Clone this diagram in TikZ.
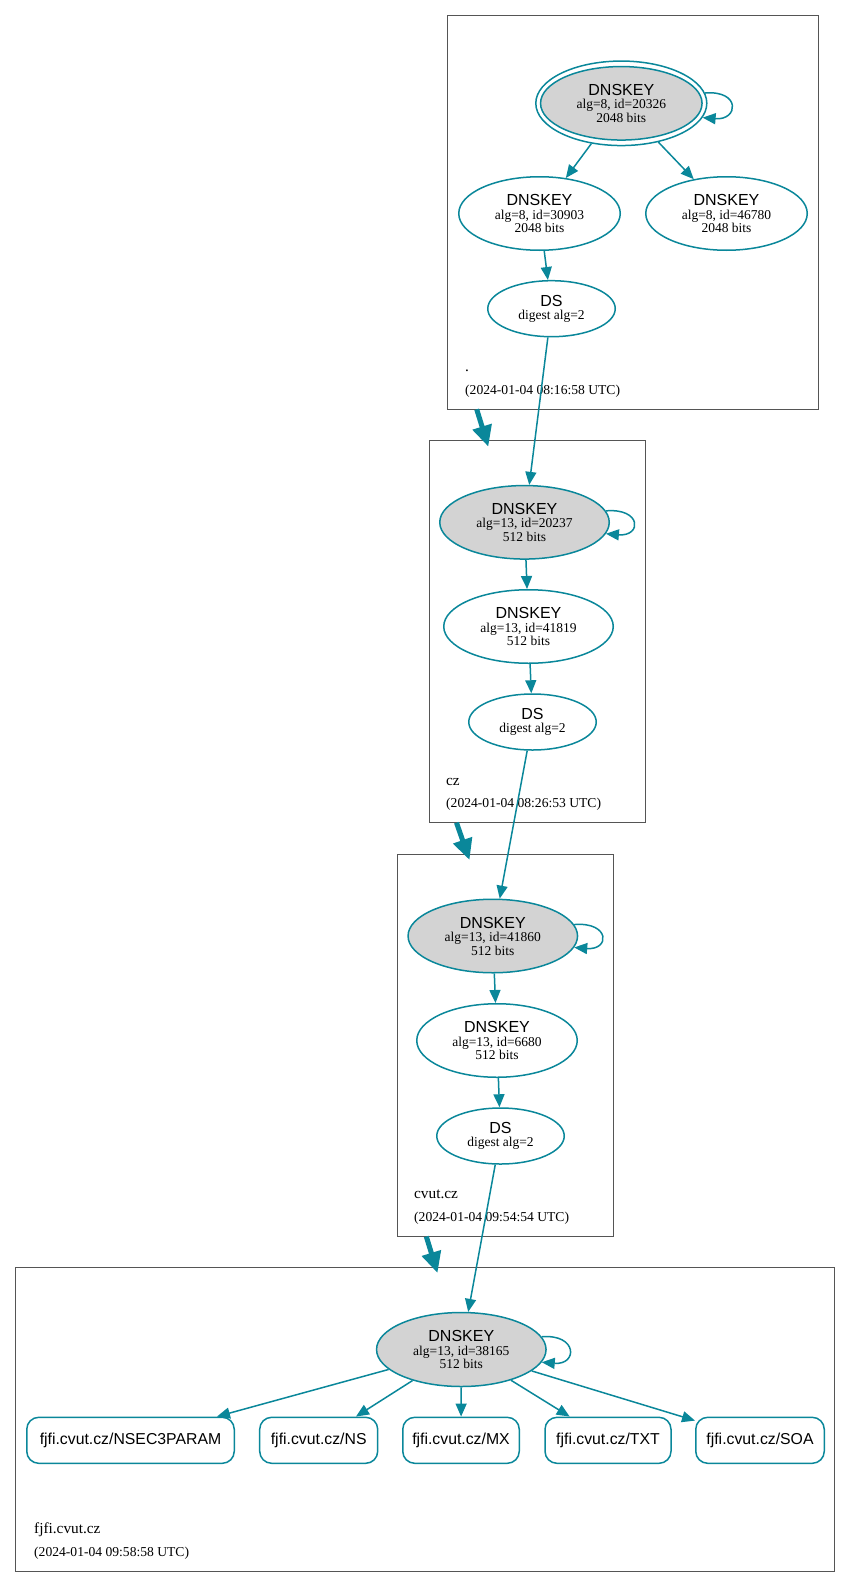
\documentclass[tikz,border=0pt]{standalone}
\usepackage{fontspec}
\setmainfont{Liberation Serif}
\setsansfont{Liberation Sans}
\usetikzlibrary{arrows.meta,shapes.geometric}
\definecolor{sec}{HTML}{0A879A}
\definecolor{kskfill}{HTML}{D3D3D3}
\definecolor{boxline}{HTML}{555555}
\newcommand\keytxt[2]{{\sffamily\fontsize{16}{13.5}\selectfont DNSKEY}\\#1\\#2}
\newcommand\dstxt{{\sffamily\fontsize{16}{13.5}\selectfont DS}\\digest alg=2}
\begin{document}
\begin{tikzpicture}[x=1pt,y=-1pt,
  zonebox/.style={draw=boxline, line width=0.9pt, inner sep=0pt, outer sep=0pt},
  keynode/.style={ellipse, draw=sec, line width=1.5pt, inner sep=0pt, align=center, fill=white,
    font=\fontsize{13.5}{13.5}\selectfont},
  ksk/.style={keynode, fill=kskfill},
  rec/.style={rectangle, rounded corners=12pt, draw=sec, line width=1.5pt, inner sep=0pt,
    minimum height=46pt, font=\sffamily\fontsize{15.8}{18}\selectfont},
  link/.style={draw=sec, line width=1.5pt, -{Triangle[length=13pt,width=11pt]}},
  zonearrow/.style={draw=sec, line width=5pt, -{Triangle[length=21pt,width=19pt]}},
  zname/.style={anchor=base west, inner sep=0pt, font=\fontsize{15.3}{18}\selectfont},
  ztime/.style={anchor=base west, inner sep=0pt, font=\fontsize{13.6}{16}\selectfont},
]
\useasboundingbox (0,0) rectangle (851,1587);

% zone boxes
\node[zonebox, minimum width=370.7pt, minimum height=393.8pt] (rootbox) at (632.65,212.4) {};
\node[zonebox, minimum width=216.4pt, minimum height=382.4pt] (czbox) at (537.5,631.5) {};
\node[zonebox, minimum width=216pt, minimum height=382pt] (cvutbox) at (505.3,1045) {};
\node[zonebox, minimum width=818.8pt, minimum height=303.7pt] (fjfibox) at (424.9,1419.15) {};

% zone labels
\node[zname] (rootname) at (465,371.5) {.};
\node[ztime] (roottime) at (465,394.3) {(2024-01-04 08:16:58 UTC)};
\node[zname] (czname) at (446,785) {cz};
\node[ztime] (cztime) at (446,807.3) {(2024-01-04 08:26:53 UTC)};
\node[zname] (cvutname) at (414,1198.5) {cvut.cz};
\node[ztime] (cvuttime) at (414,1221) {(2024-01-04 09:54:54 UTC)};
\node[zname] (fjfiname) at (34,1533) {fjfi.cvut.cz};
\node[ztime] (fjfitime) at (34,1556) {(2024-01-04 09:58:58 UTC)};

% root zone
\node[ellipse, draw=sec, line width=1.5pt, minimum width=171pt, minimum height=84.5pt, inner sep=0pt] (rk) at (621.3,103.3) {};
\node[ksk, minimum width=161.5pt, minimum height=73.5pt] (rkin) at (621.3,103.3) {\keytxt{alg=8, id=20326}{2048 bits}};
\node[keynode, minimum width=161.5pt, minimum height=73.5pt] (r30903) at (539.5,213.5) {\keytxt{alg=8, id=30903}{2048 bits}};
\node[keynode, minimum width=161.5pt, minimum height=73.5pt] (r46780) at (726.5,213.5) {\keytxt{alg=8, id=46780}{2048 bits}};
\node[keynode, minimum width=127.5pt, minimum height=56pt] (rds) at (551.5,308.7) {\dstxt};

% cz zone
\node[ksk, minimum width=169.5pt, minimum height=73.5pt] (czk) at (524.5,522.3) {\keytxt{alg=13, id=20237}{512 bits}};
\node[keynode, minimum width=169.5pt, minimum height=73.5pt] (cz41819) at (528.5,626.5) {\keytxt{alg=13, id=41819}{512 bits}};
\node[keynode, minimum width=127.5pt, minimum height=56pt] (czds) at (532.5,722) {\dstxt};

% cvut.cz zone
\node[ksk, minimum width=169.5pt, minimum height=73.5pt] (cvk) at (492.8,936) {\keytxt{alg=13, id=41860}{512 bits}};
\node[keynode, minimum width=160.5pt, minimum height=73.5pt] (cv6680) at (497,1040.5) {\keytxt{alg=13, id=6680}{512 bits}};
\node[keynode, minimum width=127.5pt, minimum height=56pt] (cvds) at (500.5,1136) {\dstxt};

% fjfi.cvut.cz zone
\node[ksk, minimum width=169.5pt, minimum height=74pt] (fk) at (461.3,1349.5) {\keytxt{alg=13, id=38165}{512 bits}};
\node[rec, minimum width=207.5pt] (nsec) at (130.5,1440.3) {fjfi.cvut.cz/NSEC3PARAM};
\node[rec, minimum width=118pt] (ns) at (318.7,1440.3) {fjfi.cvut.cz/NS};
\node[rec, minimum width=116.5pt] (mx) at (461,1440.3) {fjfi.cvut.cz/MX};
\node[rec, minimum width=126pt] (txt) at (608,1440.3) {fjfi.cvut.cz/TXT};
\node[rec, minimum width=128.5pt] (soa) at (760,1440.3) {fjfi.cvut.cz/SOA};

% edges in root zone
\draw[link] (rk) -- (r30903);
\draw[link] (rk) -- (r46780);
\draw[link] (r30903) -- (rds);
\draw[link] (rk.7) .. controls +(36,-3) and +(36,3) .. (rk.-10);
\draw[link] (rds) -- (czk);

% edges in cz zone
\draw[link] (czk.8) .. controls +(36,-3) and +(36,3) .. (czk.-8);
\draw[link] (czk) -- (cz41819);
\draw[link] (cz41819) -- (czds);
\draw[link] (czds) -- (cvk);

% edges in cvut.cz zone
\draw[link] (cvk.8) .. controls +(36,-3) and +(36,3) .. (cvk.-8);
\draw[link] (cvk) -- (cv6680);
\draw[link] (cv6680) -- (cvds);
\draw[link] (cvds) -- (fk);

% edges in fjfi.cvut.cz zone
\draw[link] (fk.9) .. controls +(36,-3) and +(36,3) .. (fk.-9);
\draw[link] (fk) -- (nsec);
\draw[link] (fk) -- (ns);
\draw[link] (fk) -- (mx);
\draw[link] (fk) -- (txt);
\draw[link] (fk) -- (soa);

% delegation arrows between zones
\coordinate (d1s) at (476.7,409.3);
\coordinate (d1e) at (488.3,446.7);
\coordinate (d2s) at (456.5,822.7);
\coordinate (d2e) at (469.5,860);
\coordinate (d3s) at (426.3,1236.5);
\coordinate (d3e) at (437.5,1273);
\draw[zonearrow] (d1s) -- (d1e);
\draw[zonearrow] (d2s) -- (d2e);
\draw[zonearrow] (d3s) -- (d3e);
\end{tikzpicture}
\end{document}
